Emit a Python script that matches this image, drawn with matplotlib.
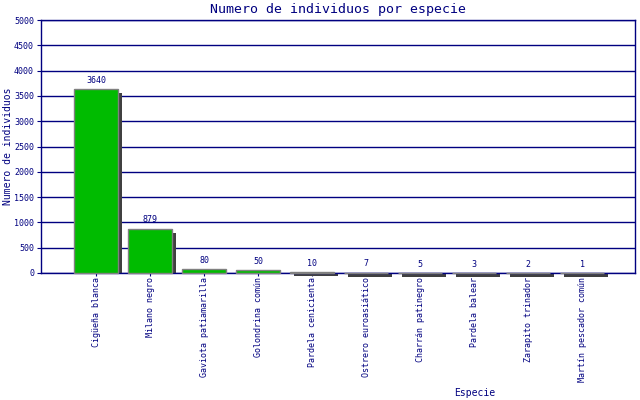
import matplotlib
matplotlib.use("Agg")
import matplotlib.pyplot as plt

species = ["Cigüeña blanca", "Milano negro", "Gaviota patiamarilla", "Golondrina común",
           "Pardela cenicienta", "Ostrero euroasiático", "Charrán patinegro",
           "Pardela balear", "Zarapito trinador", "Martín pescador común"]
counts = [3640, 879, 80, 50, 10, 7, 5, 3, 2, 1]
yticks = [0, 500, 1000, 1500, 2000, 2500, 3000, 3500, 4000, 4500, 5000]

NAVY = "#000080"
FONT = "DejaVu Sans Mono"

fig = plt.figure(figsize=(6.4, 4.0), dpi=100)
ax = fig.add_axes([41/640, 127/400, 594/640, 253/400])
ax.set_xlim(-1.02, 9.98)
ax.set_ylim(0, 5000)

x = list(range(len(species)))

# shadow: rectangle from baseline to (top - 4px), shifted 4px right
fig.canvas.draw()
inv = ax.transData.inverted()
p0 = inv.transform((0, 0))
p1 = inv.transform((0, 4))
dy = p1[1] - p0[1]
shadow_h = [v - dy for v in counts]
from matplotlib.transforms import ScaledTranslation
shift = ax.transData + ScaledTranslation(4/100, 0, fig.dpi_scale_trans)
ax.bar(x, shadow_h, width=0.82, color="#404040", linewidth=0, zorder=2.5,
       clip_on=False, transform=shift)

ax.bar(x, counts, width=0.82, color="#00bb00", edgecolor="#808080",
       linewidth=1.0, zorder=3, clip_on=False)

for xi, v in zip(x, counts):
    ax.annotate(str(v), (xi, v), xytext=(0, 3), textcoords="offset points",
                ha="center", va="bottom", fontsize=6, family=FONT, color=NAVY)

ax.set_yticks(yticks)
ax.set_yticklabels([str(t) for t in yticks], fontsize=6, family=FONT, color=NAVY)
ax.set_xticks(x)
ax.set_xticklabels(species, rotation=90, fontsize=6, family=FONT, color=NAVY, va="top")
ax.tick_params(axis="y", length=3, color=NAVY, pad=2)
ax.tick_params(axis="x", length=2, color=NAVY, pad=1)
ax.yaxis.grid(True, color=NAVY, linewidth=1.0)
ax.set_axisbelow(True)
for s in ax.spines.values():
    s.set_color(NAVY)
    s.set_linewidth(1.0)

ax.set_title("Numero de individuos por especie", fontsize=9.5, family=FONT, color=NAVY, pad=5)
ax.set_ylabel("Numero de individuos", fontsize=7, family=FONT, color=NAVY)
ax.yaxis.set_label_coords(-28/594, 0.5)
ax.set_xlabel("Especie", fontsize=7, family=FONT, color=NAVY)
ax.xaxis.set_label_coords((475-41)/594, -(388-273)/253)

fig.savefig("out.png", dpi=100)
